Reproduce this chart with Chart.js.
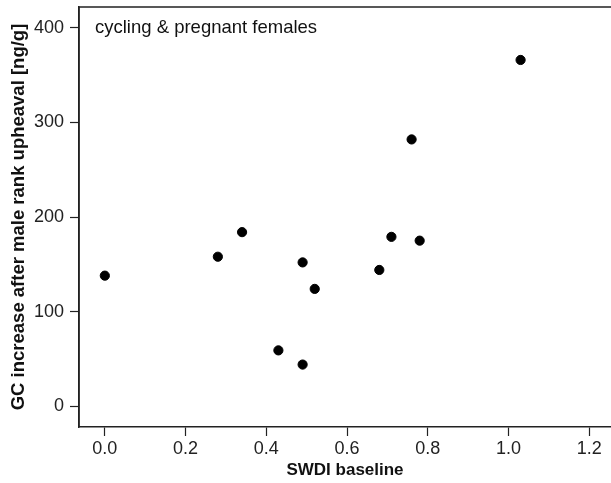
<!DOCTYPE html>
<html>
<head>
<meta charset="utf-8">
<script src="https://cdn.jsdelivr.net/npm/chart.js@4/dist/chart.umd.min.js"></script>
<style>
    html, body { margin: 0; padding: 0; background: #fff; }
    #wrap { width: 611px; height: 483px; }
</style>
</head>
<body>
<div id="wrap"><canvas id="chart"></canvas></div>
<script>
const swdi = [0.0, 0.28, 0.34, 0.43, 0.49, 0.49, 0.52, 0.68, 0.71, 0.76, 0.78, 1.03];
const gcIncrease = [138, 158, 184, 59, 152, 44, 124, 144, 179, 282, 175, 366];
const xTicks = [0.0, 0.2, 0.4, 0.6, 0.8, 1.0, 1.2];
const yTicks = [0, 100, 200, 300, 400];
const panelLabel = "cycling & pregnant females";
const xTitle = "SWDI baseline";
const yTitle = "GC increase after male rank upheaval [ng/g]";

const FONT = "'Liberation Sans', Arial, Helvetica, sans-serif";

// box around plot area + panel label
const boxAndLabel = {
    id: "boxAndLabel",
    afterDraw(chart) {
        const { ctx, chartArea: { left, top, right, bottom } } = chart;
        ctx.save();
        ctx.strokeStyle = "#222";
        ctx.lineWidth = 1.5;
        ctx.beginPath();
        ctx.moveTo(left, bottom);
        ctx.lineTo(left, top);
        ctx.lineTo(right + 2, top);
        ctx.stroke();

        ctx.font = `18.5px ${FONT}`;
        ctx.fillStyle = "#111";
        ctx.textBaseline = "alphabetic";
        ctx.fillText(panelLabel, left + 16, top + 26);
        ctx.restore();
    },
};

const points = swdi.map((x, i) => ({ x: x, y: gcIncrease[i] }));

new Chart(document.getElementById("chart"), {
    type: "scatter",
    data: {
        datasets: [{
            data: points,
            backgroundColor: "#000",
            borderColor: "#000",
            pointRadius: 4.6,
            pointHoverRadius: 4.6,
        }],
    },
    options: {
        responsive: true,
        maintainAspectRatio: false,
        animation: false,
        layout: { autoPadding: false, padding: { top: 7, right: 0, left: 0, bottom: 0 } },
        plugins: {
            legend: { display: false },
            tooltip: { enabled: false },
        },
        scales: {
            x: {
                type: "linear",
                min: -0.064,
                max: 1.254,
                afterBuildTicks: (axis) => { axis.ticks = xTicks.map(v => ({ value: v })); },
                afterFit: (axis) => {
                    axis.height = 56;
                    axis.paddingLeft = 0;
                    axis.paddingRight = 0;
                },
                grid: { display: true, drawOnChartArea: false, drawTicks: true, tickLength: 9, tickWidth: 1.2, tickColor: "#222" },
                border: { display: true, color: "#222", width: 1.5 },
                ticks: {
                    color: "#222",
                    padding: 2,
                    maxRotation: 0,
                    font: { family: FONT, size: 18 },
                    callback: (v) => v.toFixed(1),
                },
                title: {
                    display: true,
                    text: xTitle,
                    color: "#111",
                    font: { family: FONT, size: 17, weight: "bold" },
                    padding: { top: 0, bottom: 2 },
                },
            },
            y: {
                type: "linear",
                min: -22,
                max: 422,
                afterBuildTicks: (axis) => { axis.ticks = yTicks.map(v => ({ value: v })); },
                afterFit: (axis) => {
                    axis.width = 79;
                    axis.paddingTop = 0;
                    axis.paddingBottom = 0;
                },
                grid: { display: true, drawOnChartArea: false, drawTicks: true, tickLength: 9, tickWidth: 1.2, tickColor: "#222" },
                border: { display: true, color: "#222", width: 1.5 },
                ticks: {
                    color: "#222",
                    padding: 6,
                    font: { family: FONT, size: 18 },
                },
                title: {
                    display: true,
                    text: yTitle,
                    color: "#111",
                    font: { family: FONT, size: 18.5, weight: "bold" },
                    padding: { top: 8, bottom: 0 },
                },
            },
        },
    },
    plugins: [boxAndLabel],
});
</script>
</body>
</html>
